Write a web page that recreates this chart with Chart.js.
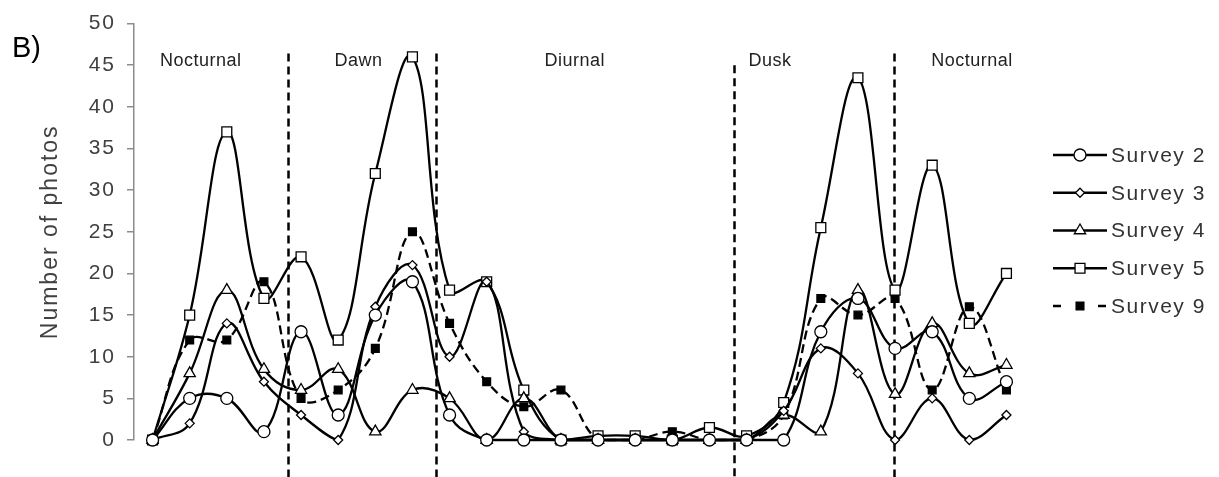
<!DOCTYPE html>
<html>
<head>
<meta charset="utf-8">
<script src="https://cdn.jsdelivr.net/npm/chart.js@4/dist/chart.umd.min.js"></script>
<style>
  html, body { margin: 0; padding: 0; background: #fff; }
  #wrap { width: 1219px; height: 477px; position: relative; }
</style>
</head>
<body>
<div id="wrap"><canvas id="myChart"></canvas></div>
<script>
const hours = ["00", "01", "02", "03", "04", "05", "06", "07", "08", "09", "10", "11",
               "12", "13", "14", "15", "16", "17", "18", "19", "20", "21", "22", "23"];

const survey2 = [0, 5, 5, 1, 13, 3, 15, 19, 3, 0, 0, 0, 0, 0, 0, 0, 0, 0, 13, 17, 11, 13, 5, 7];
const survey3 = [0, 2, 14, 7, 3, 0, 16, 21, 10, 19, 1, 0, 0, 0, 0, 0, 0, 3.5, 11, 8, 0, 5, 0, 3];
const survey4 = [0, 8, 18, 8.5, 6, 8.5, 1, 6, 5, 0, 5, 0, 0, 0, 0, 0, 0, 3, 1, 18, 5.5, 14, 8, 9];
const survey5 = [0, 15, 37, 17, 22, 12, 32, 46, 18, 19, 6, 0, 0.5, 0.5, 0, 1.5, 0.5, 4.5, 25.5, 43.5, 18, 33, 14, 20];
const survey9 = [0, 12, 12, 19, 5, 6, 11, 25, 14, 7, 4, 6, 0, 0, 1, 0, 0, 3, 17, 15, 17, 6, 16, 6];

const yTicks = [0, 50, 5]; // min, max, step

// period boundaries (in hour-index units) and the names written above each period
const phaseBounds = [3.65, 7.63, 15.66, 19.97];
const phaseTops = [46.4, 46.4, 45, 46.4];
const phaseNames = ["Nocturnal", "Dawn", "Diurnal", "Dusk", "Nocturnal"];
const phaseNameAt = [1.3, 5.55, 11.37, 16.63, 22.07];

const FONT = "'Liberation Sans', Arial, sans-serif";

// axis text is drawn a little spaced out
const spacing = {
  id: "spacing",
  beforeDraw(chart) { chart.ctx.letterSpacing = "2px"; },
  beforeDatasetsDraw(chart) { chart.ctx.letterSpacing = "0px"; }
};

const phasePlugin = {
  id: "phases",
  beforeDatasetsDraw(chart) {
    const { ctx, scales: { x, y } } = chart;
    ctx.save();
    ctx.strokeStyle = "#000";
    ctx.lineWidth = 2.5;
    ctx.setLineDash([8, 5]);
    phaseBounds.forEach((b, i) => {
      const px = Math.round(x.getPixelForValue(b)) + 0.5;
      ctx.beginPath();
      ctx.moveTo(px, y.getPixelForValue(phaseTops[i]));
      ctx.lineTo(px, chart.height);
      ctx.stroke();
    });
    ctx.setLineDash([]);
    ctx.fillStyle = "#222";
    ctx.font = "18px " + FONT;
    ctx.letterSpacing = "0.5px";
    ctx.textAlign = "center";
    ctx.textBaseline = "middle";
    phaseNames.forEach((name, i) => {
      ctx.fillText(name, x.getPixelForValue(phaseNameAt[i]), y.getPixelForValue(45.5));
    });
    ctx.fillStyle = "#000";
    ctx.font = "29px " + FONT;
    ctx.letterSpacing = "0px";
    ctx.textAlign = "left";
    ctx.fillText("B)", 12, 49);
    ctx.restore();
  }
};

// legend: a short line with the series marker in the middle, then the label
const legendPlugin = {
  id: "sideLegend",
  afterDraw(chart) {
    const { ctx, chartArea } = chart;
    const x0 = chartArea.right + 28;
    const len = 54;
    ctx.save();
    chart.data.datasets.forEach((ds, i) => {
      const yy = 155 + i * 37.75;
      ctx.strokeStyle = "#000";
      ctx.lineWidth = 2.3;
      ctx.setLineDash(ds.borderDash ? [8, 37] : []);
      ctx.beginPath();
      ctx.moveTo(x0, yy);
      ctx.lineTo(x0 + len, yy);
      ctx.stroke();
      ctx.setLineDash([]);
      ctx.fillStyle = ds.pointBackgroundColor;
      ctx.lineWidth = ds.pointBorderWidth;
      Chart.helpers.drawPoint(ctx, {
        pointStyle: ds.pointStyle,
        radius: ds.pointRadius,
        rotation: 0,
        borderWidth: ds.pointBorderWidth
      }, x0 + len / 2, yy);
      ctx.fillStyle = "#333";
      ctx.font = "21px " + FONT;
      ctx.letterSpacing = "1.5px";
      ctx.textAlign = "left";
      ctx.textBaseline = "middle";
      ctx.fillText(ds.label, x0 + len + 4, yy + 1);
      ctx.letterSpacing = "0px";
    });
    ctx.restore();
  }
};

const line = (label, data, extra) => Object.assign({
  label,
  data,
  borderColor: "#000",
  borderWidth: 2.3,
  tension: 0.4,
  clip: false,
  pointBorderColor: "#000",
  pointBorderWidth: 1.3,
  pointBackgroundColor: "#fff"
}, extra);

new Chart("myChart", {
  type: "line",
  data: {
    labels: hours,
    datasets: [
      line("Survey 2", survey2, { pointStyle: "circle", pointRadius: 6 }),
      line("Survey 3", survey3, { pointStyle: "rectRot", pointRadius: 4.5 }),
      line("Survey 4", survey4, { pointStyle: "triangle", pointRadius: 6.5 }),
      line("Survey 5", survey5, { pointStyle: "rect", pointRadius: 7 }),
      line("Survey 9", survey9, { pointStyle: "rect", pointRadius: 5.5, pointBackgroundColor: "#000", borderDash: [9, 5] })
    ]
  },
  options: {
    responsive: true,
    maintainAspectRatio: false,
    animation: false,
    layout: { padding: { top: 20, right: 194, bottom: 37, left: 0 } },
    plugins: {
      legend: { display: false },
      tooltip: { enabled: false }
    },
    scales: {
      x: {
        display: false,
        offset: true
      },
      y: {
        min: yTicks[0],
        max: yTicks[1],
        afterFit(scale) { scale.width = 134; },
        ticks: {
          stepSize: yTicks[2],
          padding: 11,
          color: "#404040",
          font: { family: FONT, size: 21 }
        },
        grid: {
          drawOnChartArea: false,
          tickLength: 7,
          color: "#8c8c8c",
          lineWidth: 1.5
        },
        border: { color: "#8c8c8c", width: 1.5 },
        title: {
          display: true,
          text: "Number of photos",
          color: "#404040",
          font: { family: FONT, size: 23 },
          padding: { top: 37, bottom: 0 }
        }
      }
    }
  },
  plugins: [spacing, phasePlugin, legendPlugin]
});
</script>
</body>
</html>
